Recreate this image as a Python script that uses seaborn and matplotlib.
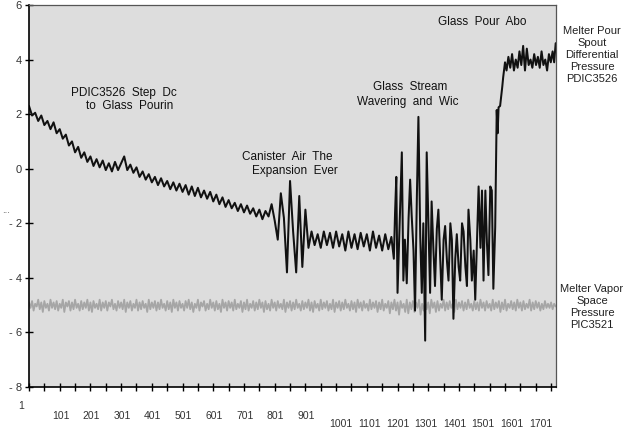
# Melter pour spout differential pressure vs. melter vapor space pressure
import matplotlib
matplotlib.use("Agg")
import matplotlib.pyplot as plt
import matplotlib.transforms as mtransforms
import pandas as pd
import seaborn as sns

# ---- data ----
# PDIC3526: regular samples (every 10 points) up to the wavering, then the
# peaks/troughs of the wavering and the step up after the glass pour
pdic_x_early = list(range(1, 1182, 10))
pdic_y_early = [
    2.3, 1.95, 2.05, 1.75, 1.95, 1.6, 1.75, 1.45, 1.7, 1.3,
    1.45, 1.1, 1.25, 0.85, 1.0, 0.6, 0.8, 0.4, 0.6, 0.25,
    0.45, 0.1, 0.35, 0.05, 0.3, -0.05, 0.2, -0.1, 0.25, -0.05,
    0.2, 0.45, -0.05, 0.15, -0.15, 0.05, -0.3, -0.1, -0.4, -0.2,
    -0.5, -0.3, -0.6, -0.35, -0.65, -0.45, -0.75, -0.5, -0.8, -0.55,
    -0.85, -0.6, -0.95, -0.65, -1.0, -0.7, -1.05, -0.8, -1.1, -0.85,
    -1.2, -0.95, -1.3, -1.05, -1.4, -1.15, -1.45, -1.25, -1.55, -1.3,
    -1.6, -1.35, -1.65, -1.45, -1.75, -1.5, -1.85, -1.55, -1.75, -1.3,
    -1.9, -2.6, -0.9, -1.8, -3.8, -0.45, -2.3, -3.8, -1.0, -3.6,
    -1.5, -2.9, -2.3, -2.8, -2.4, -2.9, -2.3, -2.8, -2.35, -2.9,
    -2.3, -2.85, -2.4, -3.0, -2.3, -2.9, -2.4, -2.95, -2.35, -2.85,
    -2.4, -3.0, -2.3, -2.9, -2.45, -3.0, -2.4, -2.95, -2.5,
]
pdic_x_late = [
    1189, 1193, 1197, 1201, 1208, 1215, 1220, 1225, 1231, 1237, 1242,
    1247, 1253, 1258, 1264, 1269, 1275, 1280, 1285, 1291, 1296,
    1302, 1307, 1312, 1318, 1323, 1329, 1334, 1340, 1345, 1351,
    1356, 1362, 1367, 1373, 1378, 1383, 1389, 1394, 1400, 1405,
    1411, 1416, 1422, 1427, 1432, 1438, 1443, 1449, 1454, 1460,
    1465, 1471, 1476, 1481, 1487, 1492, 1497, 1503, 1508, 1513,
    1519, 1524, 1527, 1530, 1535, 1542, 1545, 1551, 1556, 1562,
    1568, 1574, 1580, 1586, 1592, 1598, 1604, 1610, 1616, 1622,
    1628, 1634, 1640, 1646, 1652, 1658, 1664, 1670, 1676, 1682,
    1688, 1694, 1700, 1706, 1711, 1716,
]
pdic_y_late = [
    -3.3, -1.6, -0.3, -4.55, -2.0, 0.6, -4.1, -2.6, -4.2, -1.8, -0.4,
    -1.7, -3.0, -5.2, -1.0, 1.9, -2.5, -4.55, -2.0, -6.3, 0.6,
    -2.2, -4.55, -1.2, -3.0, -4.3, -2.2, -1.5, -3.3, -4.8, -2.6,
    -2.1, -3.4, -4.1, -2.0, -2.6, -5.5, -3.3, -2.4, -3.6, -4.1,
    -2.0, -2.3, -3.6, -4.3, -1.5, -2.6, -4.1, -3.0, -4.8, -2.5,
    -0.65, -2.9, -0.8, -4.1, -0.8, -2.7, -3.9, -0.65, -0.8, -4.4,
    -2.15, 2.15, 1.3, 2.25, 2.3, 3.0, 3.35, 3.9, 3.6, 4.1,
    3.7, 4.2, 3.6, 4.0, 3.7, 4.3, 3.8, 4.5, 3.6, 4.4,
    3.8, 4.0, 3.7, 4.2, 3.8, 4.1, 3.7, 4.3, 3.8, 4.0,
    3.6, 4.2, 3.9, 4.3, 3.9, 4.6,
]

# PIC3521: melter vapor space pressure, every 5 points
pic_x = list(range(1, 1717, 5))
pic_y = [
    -4.9, -5.1, -4.85, -5.2, -4.95, -5.05, -4.8, -5.15, -4.9, -5.25,
    -4.85, -5.1, -4.95, -5.2, -4.8, -5.1, -4.9, -5.15, -4.85, -5.2,
    -4.95, -5.1, -4.8, -5.25, -4.9, -5.05, -4.85, -5.2, -4.9, -5.15,
    -4.8, -5.1, -4.95, -5.2, -4.85, -5.15, -4.9, -5.1, -4.8, -5.2,
    -4.9, -5.25, -4.85, -5.1, -4.95, -5.15, -4.8, -5.2, -4.9, -5.1,
    -4.85, -5.2, -4.9, -5.05, -4.8, -5.15, -4.95, -5.2, -4.85, -5.1,
    -4.9, -5.15, -4.8, -5.25, -4.9, -5.1, -4.85, -5.2, -4.95, -5.1,
    -4.8, -5.2, -4.9, -5.15, -4.85, -5.1, -4.95, -5.25, -4.8, -5.15,
    -4.9, -5.1, -4.85, -5.2, -4.9, -5.15, -4.8, -5.1, -4.95, -5.2,
    -4.85, -5.15, -4.9, -5.25, -4.8, -5.1, -4.9, -5.2, -4.85, -5.1,
    -4.95, -5.2, -4.85, -5.1, -4.8, -5.15, -4.9, -5.25, -4.95, -5.1,
    -4.8, -5.2, -4.9, -5.05, -4.85, -5.2, -4.95, -5.15, -4.8, -5.1,
    -4.9, -5.2, -4.85, -5.15, -4.95, -5.25, -4.8, -5.1, -4.9, -5.2,
    -4.85, -5.1, -4.9, -5.2, -4.8, -5.15, -4.95, -5.1, -4.85, -5.25,
    -4.9, -5.15, -4.8, -5.2, -4.95, -5.1, -4.85, -5.2, -4.9, -5.15,
    -4.8, -5.1, -4.9, -5.25, -4.85, -5.15, -4.95, -5.2, -4.8, -5.1,
    -4.9, -5.2, -4.85, -5.1, -4.95, -5.15, -4.8, -5.25, -4.9, -5.1,
    -4.85, -5.2, -4.9, -5.15, -4.8, -5.1, -4.95, -5.2, -4.85, -5.15,
    -4.9, -5.1, -4.8, -5.2, -4.9, -5.25, -4.85, -5.1, -4.95, -5.2,
    -4.8, -5.15, -4.9, -5.1, -4.85, -5.2, -4.95, -5.15, -4.8, -5.25,
    -4.9, -5.1, -4.85, -5.2, -4.9, -5.15, -4.8, -5.1, -4.95, -5.2,
    -4.85, -5.15, -4.9, -5.25, -4.8, -5.1, -4.9, -5.2, -4.85, -5.1,
    -4.95, -5.2, -4.8, -5.15, -4.9, -5.1, -4.85, -5.25, -4.9, -5.15,
    -4.8, -5.2, -4.95, -5.1, -4.85, -5.3, -4.9, -5.15, -4.8, -5.2,
    -4.9, -5.35, -4.85, -5.1, -4.95, -5.25, -4.8, -5.3, -4.9, -5.15,
    -4.85, -5.25, -4.9, -5.1, -4.8, -5.35, -4.95, -5.2, -4.85, -5.15,
    -4.9, -5.3, -4.8, -5.1, -4.9, -5.25, -4.85, -5.2, -4.95, -5.1,
    -4.8, -5.2, -4.9, -5.15, -4.85, -5.1, -4.95, -5.25, -4.8, -5.15,
    -4.9, -5.1, -4.85, -5.2, -4.9, -5.15, -4.8, -5.1, -4.95, -5.2,
    -4.85, -5.15, -4.9, -5.2, -4.8, -5.1, -4.9, -5.2, -4.85, -5.1,
    -4.95, -5.2, -4.8, -5.15, -4.9, -5.1, -4.85, -5.25, -4.9, -5.15,
    -4.8, -5.2, -4.95, -5.1, -4.85, -5.15, -4.9, -5.2, -4.8, -5.1,
    -4.9, -5.2, -4.85, -5.15, -4.95, -5.1, -4.8, -5.2, -4.9, -5.15,
    -4.85, -5.1, -4.9, -5.2, -4.95, -5.15, -4.85, -5.1, -4.95, -5.1,
    -4.9, -5.15, -4.95, -5.05,
]

y_ticks = [-8, -6, -4, -2, 0, 2, 4, 6]
x_ticks = list(range(1, 1702, 100))
x_minor = list(range(51, 1702, 100))

notes = [
    ("PDIC3526  Step  Dc", 138, 2.78),
    ("to  Glass  Pourin", 187, 2.30),
    ("Canister  Air  The", 695, 0.42),
    ("Expansion  Ever", 727, -0.10),
    ("Glass  Stream", 1121, 3.0),
    ("Wavering  and  Wic", 1069, 2.46),
    ("Glass  Pour  Abo", 1333, 5.38),
]

pdic = pd.DataFrame({"x": pdic_x_early + pdic_x_late,
                     "y": pdic_y_early + pdic_y_late})
pic = pd.DataFrame({"x": pic_x, "y": pic_y})

# ---- plot ----
sns.set_theme(style="ticks")
plt.rcParams["font.family"] = ["Liberation Sans", "DejaVu Sans"]

fig = plt.figure(figsize=(6.26, 4.44), dpi=100)
ax = fig.add_axes([29 / 626, 57 / 444, 527 / 626, 382 / 444])
ax.set_facecolor("#dddddd")

sns.lineplot(data=pic, x="x", y="y", ax=ax, color="#a6a6a6", linewidth=1.3,
             estimator=None, sort=False)
sns.lineplot(data=pdic, x="x", y="y", ax=ax, color="#111111", linewidth=1.45,
             estimator=None, sort=False)

ax.set_xlim(1, 1717)
ax.set_ylim(-8, 6)
ax.set_xlabel("")
ax.set_ylabel("")

ax.set_yticks(y_ticks)
ax.set_yticklabels([f"- {abs(v)}" if v < 0 else str(v) for v in y_ticks],
                   fontsize=8, color="#333333")
ax.set_xticks(x_ticks)
ax.set_xticks(x_minor, minor=True)
ax.set_xticklabels([str(v) for v in x_ticks], fontsize=7.5, color="#333333")
ax.tick_params(axis="both", which="both", direction="inout", length=6,
               width=1, color="black")
ax.tick_params(axis="x", pad=7)
ax.tick_params(axis="y", pad=2)

# staggered x labels as in the original print (pixel shifts: dx, dy)
label_shift = [(-8, 0)] + [(1, 10)] * 9 + [
    (5, 18), (3, 18), (0, 18), (-2, 18), (-4, 18), (-7, 18), (-9, 18),
    (-10, 18)]
for lab, (dx, dy) in zip(ax.get_xticklabels(), label_shift):
    lab.set_transform(lab.get_transform() + mtransforms.ScaledTranslation(
        dx / 100, -dy / 100, fig.dpi_scale_trans))

for side in ["left", "bottom"]:
    ax.spines[side].set_color("black")
    ax.spines[side].set_linewidth(1.2)
for side in ["top", "right"]:
    ax.spines[side].set_visible(True)
    ax.spines[side].set_color("#555555")
    ax.spines[side].set_linewidth(0.9)

for text, x, y in notes:
    ax.text(x, y, text, fontsize=8.5, color="#111111", ha="left",
            va="center")

fig.text(592 / 626, 1 - 55 / 444,
         "Melter Pour\nSpout\nDifferential\nPressure\nPDIC3526",
         fontsize=8, ha="center", va="center", linespacing=1.25,
         color="#222222")
fig.text(592 / 626, 1 - 307 / 444,
         "Melter Vapor\nSpace\nPressure\nPIC3521",
         fontsize=8, ha="center", va="center", linespacing=1.25,
         color="#222222")
fig.text(6 / 626, 1 - 210 / 444, "...", fontsize=7, ha="center",
         va="center", color="#555555")

fig.savefig("out.png", dpi=100)
